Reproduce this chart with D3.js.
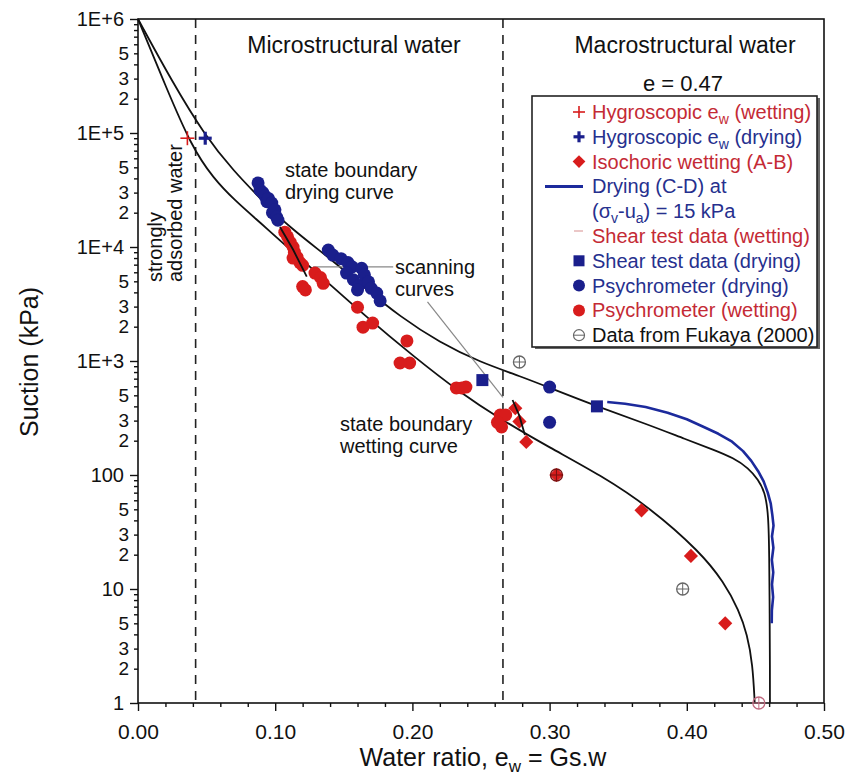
<!DOCTYPE html>
<html><head><meta charset="utf-8">
<script src="https://cdn.jsdelivr.net/npm/d3@7"></script>
<style>body{margin:0;background:#fff;} svg{display:block;font-family:Arial,"Liberation Sans",sans-serif;}</style>
</head><body><svg id="c" width="851" height="781"></svg>
<script>
// ---------- data ----------
const xMajorTicks = [0, 0.1, 0.2, 0.3, 0.4, 0.5];
const xMinorTicks = [0.02,0.04,0.06,0.08,0.12,0.14,0.16,0.18,0.22,0.24,0.26,0.28,0.32,0.34,0.36,0.38,0.42,0.44,0.46,0.48];
const yMajorTicks = [1, 10, 100, 1e3, 1e4, 1e5, 1e6];
const yMajorLabels = ["1", "10", "100", "1E+3", "1E+4", "1E+5", "1E+6"];
const regionBounds = [0.042, 0.266];

const sbcDrying = [[0,1e6],[0.025,2.8e5],[0.049,9.4e4],[0.07,4.6e4],[0.09,2.6e4],[0.11,1.5e4],[0.142,7600],[0.165,4400],[0.191,2450],[0.22,1450],[0.249,980],[0.28,725],[0.30,582],[0.335,398],[0.37,282],[0.40,204],[0.42,166],[0.434,141],[0.445,115],[0.452,91],[0.457,71],[0.4595,45],[0.4601,20],[0.4604,6],[0.4606,2],[0.4606,1]];
const sbcWetting = [[0,1e6],[0.02,2.6e5],[0.039,7.6e4],[0.055,4.0e4],[0.07,2.6e4],[0.09,1.6e4],[0.106,1.07e4],[0.13,6000],[0.167,2400],[0.20,1120],[0.235,525],[0.264,310],[0.30,174],[0.337,100],[0.373,52],[0.41,21],[0.427,11.5],[0.438,6.5],[0.444,4.0],[0.448,2.2],[0.4495,1],[0.4495,1]];
const dryingCD = [[0.342,437],[0.355,422],[0.37,395],[0.386,352],[0.40,308],[0.412,265],[0.423,230],[0.433,196],[0.441,162],[0.447,133],[0.452,108],[0.456,88],[0.459,70],[0.4612,56],[0.4624,44],[0.4632,36],[0.4621,29],[0.4631,23],[0.4620,18],[0.4630,14],[0.4621,11],[0.4629,8.5],[0.4620,6.5],[0.4619,5]];
const scanning1 = [[0.1035,15000],[0.113,9500],[0.123,5500]];
const scanning2 = [[0.273,455],[0.278,330],[0.282,224]];
const leaderScanning = [[0.1276,6700],[0.186,6700]];
const leaderCurves = [[0.211,3300],[0.266,480]];

const hygroWetting = [[0.036,90000]];
const hygroDrying = [[0.049,90000]];
const isochoricWetting = [[0.275,385],[0.278,295],[0.283,195],[0.305,100],[0.367,49],[0.403,19.5],[0.428,5]];
const shearDrying = [[0.251,680],[0.3345,400]];
const psychDrying = [[0.0875,36500],[0.089,31500],[0.091,30000],[0.0925,28000],[0.094,25000],[0.095,26700],[0.0975,24300],[0.098,20000],[0.0998,21200],[0.101,18300],[0.102,17200],
  [0.1387,9400],[0.142,8500],[0.148,7900],[0.153,7300],[0.156,6700],[0.152,5900],[0.157,5160],[0.161,4600],[0.163,6500],[0.165,5700],[0.168,4950],[0.17,4340],[0.174,3940],[0.1765,3370],[0.16,4200],
  [0.300,590],[0.300,290]];
const psychWetting = [[0.107,13500],[0.109,12300],[0.111,11000],[0.113,10000],[0.114,9000],[0.116,8100],[0.118,7300],[0.120,6900],[0.113,8000],[0.129,5900],[0.133,5400],[0.135,4800],[0.120,4500],[0.122,4200],
  [0.160,2960],[0.164,1980],[0.171,2150],[0.196,1500],[0.198,960],[0.191,960],[0.232,580],[0.236,580],[0.239,590],[0.264,336],[0.268,336],[0.265,264],[0.262,290]];
const fukaya = [[0.278,980],[0.305,100],[0.397,10],[0.4525,1]];

// ---------- setup ----------
const RED = "#d81c1c", BLUE = "#1a1f8c", REDTXT = "#c42a35", BLUETXT = "#26308e";
const svg = d3.select("#c");
const x = d3.scaleLinear().domain([0, 0.5]).range([138, 824]);
const y = d3.scaleLog().domain([1, 1e6]).range([703, 19]);

// dashed region boundaries
svg.selectAll(".dash").data(regionBounds).join("line")
  .attr("x1", d => x(d)).attr("x2", d => x(d)).attr("y1", y(1e6)).attr("y2", y(1))
  .attr("stroke", "#222").attr("stroke-width", 1.6).attr("stroke-dasharray", "9,7");

// axes
const yMinor = [];
for (let n = 0; n < 6; n++) for (let k = 2; k <= 9; k++) yMinor.push(k * Math.pow(10, n));
const gYmin = svg.append("g").attr("transform", `translate(${x(0)},0)`)
  .call(d3.axisLeft(y).tickValues(yMinor).tickSize(4).tickPadding(5).tickSizeOuter(0)
    .tickFormat(d => { const k = Math.round(d / Math.pow(10, Math.floor(Math.log10(d) + 1e-9))); return [2,3,5].includes(k) ? String(k) : ""; }));
const gYmaj = svg.append("g").attr("transform", `translate(${x(0)},0)`)
  .call(d3.axisLeft(y).tickValues(yMajorTicks).tickSize(8).tickPadding(6).tickSizeOuter(0)
    .tickFormat((d, i) => yMajorLabels[i]));
const gXmin = svg.append("g").attr("transform", `translate(0,${y(1)})`)
  .call(d3.axisBottom(x).tickValues(xMinorTicks).tickSize(4).tickFormat("").tickSizeOuter(0));
const gXmaj = svg.append("g").attr("transform", `translate(0,${y(1)})`)
  .call(d3.axisBottom(x).tickValues(xMajorTicks).tickSize(8).tickPadding(13).tickSizeOuter(0)
    .tickFormat(d3.format(".2f")));
[gYmin, gYmaj, gXmin, gXmaj].forEach(g => {
  g.selectAll(".domain").remove();
  g.selectAll("line").attr("stroke", "#111").attr("stroke-width", 1.4);
  g.selectAll("text").attr("font-size", 21).attr("fill", "#111").attr("font-family", "Arial, 'Liberation Sans', sans-serif");
});
gYmin.selectAll("text").attr("font-size", 19);
gYmaj.selectAll("text").attr("font-size", 20);
// frame
svg.append("rect").attr("x", x(0)).attr("y", y(1e6)).attr("width", x(0.5) - x(0)).attr("height", y(1) - y(1e6))
  .attr("fill", "none").attr("stroke", "#111").attr("stroke-width", 1.6);

// curves
const line = d3.line().x(d => x(d[0])).y(d => y(d[1])).curve(d3.curveBasis);
const lin = d3.line().x(d => x(d[0])).y(d => y(d[1]));
svg.append("path").attr("d", line(sbcDrying)).attr("fill", "none").attr("stroke", "#111").attr("stroke-width", 1.8);
svg.append("path").attr("d", line(sbcWetting)).attr("fill", "none").attr("stroke", "#111").attr("stroke-width", 1.8);
svg.append("path").attr("d", lin(dryingCD)).attr("fill", "none").attr("stroke", "#1c2a9c").attr("stroke-width", 2.6).attr("stroke-linejoin", "round");
[leaderScanning, leaderCurves].forEach(l => svg.append("path").attr("d", lin(l)).attr("fill", "none").attr("stroke", "#888").attr("stroke-width", 1.2));

// markers
const gm = svg.append("g");
gm.selectAll(".pw").data(psychWetting).join("circle").attr("cx", d => x(d[0])).attr("cy", d => y(d[1])).attr("r", 6.5).attr("fill", RED);
gm.selectAll(".pd").data(psychDrying).join("circle").attr("cx", d => x(d[0])).attr("cy", d => y(d[1])).attr("r", 6.5).attr("fill", BLUE);
[scanning1, scanning2].forEach(l => svg.append("path").attr("d", lin(l)).attr("fill", "none").attr("stroke", "#111").attr("stroke-width", 1.8));
gm.selectAll(".iso").data(isochoricWetting).join("rect").attr("x", -5).attr("y", -5).attr("width", 10).attr("height", 10)
  .attr("transform", d => `translate(${x(d[0])},${y(d[1])}) rotate(45)`).attr("fill", RED);
gm.selectAll(".sd").data(shearDrying).join("rect").attr("x", d => x(d[0]) - 6).attr("y", d => y(d[1]) - 6).attr("width", 12).attr("height", 12).attr("fill", BLUE);
function plus(g, cx, cy, s, w, c) {
  g.append("line").attr("x1", cx - s).attr("x2", cx + s).attr("y1", cy).attr("y2", cy).attr("stroke", c).attr("stroke-width", w);
  g.append("line").attr("x1", cx).attr("x2", cx).attr("y1", cy - s).attr("y2", cy + s).attr("stroke", c).attr("stroke-width", w);
}
hygroWetting.forEach(d => plus(gm, x(d[0]), y(d[1]), 7, 1.6, RED));
hygroDrying.forEach(d => plus(gm, x(d[0]), y(d[1]), 6.5, 3.2, BLUE));
function fuk(g, cx, cy, c) {
  g.append("circle").attr("cx", cx).attr("cy", cy).attr("r", 6).attr("fill", "none").attr("stroke", c).attr("stroke-width", 1.3);
  g.append("line").attr("x1", cx - 6).attr("x2", cx + 6).attr("y1", cy).attr("y2", cy).attr("stroke", c).attr("stroke-width", 1);
  g.append("line").attr("x1", cx).attr("x2", cx).attr("y1", cy - 6).attr("y2", cy + 6).attr("stroke", c).attr("stroke-width", 1);
}
fukaya.forEach((d, i) => fuk(gm, x(d[0]), y(d[1]), i === 1 ? "#7a1010" : (i === 3 ? "#c06a80" : "#666")));

// ---------- text ----------
const T = (tx, ty, s, opts = {}) => svg.append("text").attr("x", tx).attr("y", ty).attr("font-size", opts.size || 20)
  .attr("fill", opts.fill || "#111").attr("text-anchor", opts.anchor || "start").text(s);
T(354, 53, "Microstructural water", { size: 23, anchor: "middle" });
T(685, 53, "Macrostructural water", { size: 23, anchor: "middle" });
T(683, 91, "e = 0.47", { size: 22, anchor: "middle" });
T(285, 177, "state boundary"); T(285, 199, "drying curve");
T(395, 274, "scanning"); T(395, 296, "curves");
T(340, 431, "state boundary"); T(340, 453, "wetting curve");
svg.append("text").attr("transform", "translate(162,282) rotate(-90)").attr("font-size", 20).attr("fill", "#111").text("strongly");
svg.append("text").attr("transform", "translate(182,282) rotate(-90)").attr("font-size", 20).attr("fill", "#111").text("adsorbed water");
svg.append("text").attr("transform", "translate(38,362) rotate(-90)").attr("font-size", 25).attr("text-anchor", "middle").attr("fill", "#111").text("Suction (kPa)");
const xt = svg.append("text").attr("x", 483).attr("y", 766).attr("font-size", 25).attr("text-anchor", "middle").attr("fill", "#111");
xt.append("tspan").text("Water ratio, e");
xt.append("tspan").attr("dy", 6).attr("font-size", 17).text("w");
xt.append("tspan").attr("dy", -6).text(" = Gs.w");

// ---------- legend ----------
const lg = svg.append("g");
lg.append("rect").attr("x", 535).attr("y", 98).attr("width", 285).attr("height", 251).attr("fill", "#666");
lg.append("rect").attr("x", 532).attr("y", 96).attr("width", 285).attr("height", 251).attr("fill", "#fff").attr("stroke", "#222").attr("stroke-width", 1.6);
const rowY = i => 112 + 24.8 * i;
const legendRows = [
  { parts: [["Hygroscopic e"], ["w", 1], [" (wetting)"]], c: REDTXT },
  { parts: [["Hygroscopic e"], ["w", 1], [" (drying)"]], c: BLUETXT },
  { parts: [["Isochoric wetting (A-B)"]], c: REDTXT },
  { parts: [["Drying (C-D) at"]], c: BLUETXT },
  { parts: [["(σ"], ["v", 1], ["-u"], ["a", 1], [") = 15 kPa"]], c: BLUETXT },
  { parts: [["Shear test data (wetting)"]], c: REDTXT },
  { parts: [["Shear test data (drying)"]], c: BLUETXT },
  { parts: [["Psychrometer (drying)"]], c: BLUETXT },
  { parts: [["Psychrometer (wetting)"]], c: REDTXT },
  { parts: [["Data from Fukaya (2000)"]], c: "#111" }
];
legendRows.forEach((r, i) => {
  const t = lg.append("text").attr("x", 592).attr("y", rowY(i) + 7).attr("font-size", 20).attr("fill", r.c);
  let sub = false;
  r.parts.forEach(p => {
    const ts = t.append("tspan").text(p[0]);
    if (p[1] && !sub) { ts.attr("dy", 5).attr("font-size", 14); sub = true; }
    else if (!p[1] && sub) { ts.attr("dy", -5); sub = false; }
  });
});
const sx = 579;
plus(lg, sx, rowY(0), 6, 1.6, RED);
plus(lg, sx, rowY(1), 5.5, 3.2, BLUE);
lg.append("rect").attr("x", -4.5).attr("y", -4.5).attr("width", 9).attr("height", 9).attr("transform", `translate(${sx},${rowY(2)}) rotate(45)`).attr("fill", RED);
lg.append("line").attr("x1", 545).attr("x2", 583).attr("y1", rowY(3)).attr("y2", rowY(3)).attr("stroke", "#1c2a9c").attr("stroke-width", 3);
lg.append("line").attr("x1", 574).attr("x2", 583).attr("y1", rowY(5) - 5).attr("y2", rowY(5) - 5).attr("stroke", "#e4b4b4").attr("stroke-width", 1.5);
lg.append("rect").attr("x", sx - 5.5).attr("y", rowY(6) - 5.5).attr("width", 11).attr("height", 11).attr("fill", BLUE);
lg.append("circle").attr("cx", sx).attr("cy", rowY(7)).attr("r", 6).attr("fill", BLUE);
lg.append("circle").attr("cx", sx).attr("cy", rowY(8)).attr("r", 6).attr("fill", RED);
lg.append("circle").attr("cx", sx).attr("cy", rowY(9)).attr("r", 5.5).attr("fill", "none").attr("stroke", "#666").attr("stroke-width", 1.2);
lg.append("line").attr("x1", sx - 5.5).attr("x2", sx + 5.5).attr("y1", rowY(9)).attr("y2", rowY(9)).attr("stroke", "#666").attr("stroke-width", 1);
</script></body></html>
